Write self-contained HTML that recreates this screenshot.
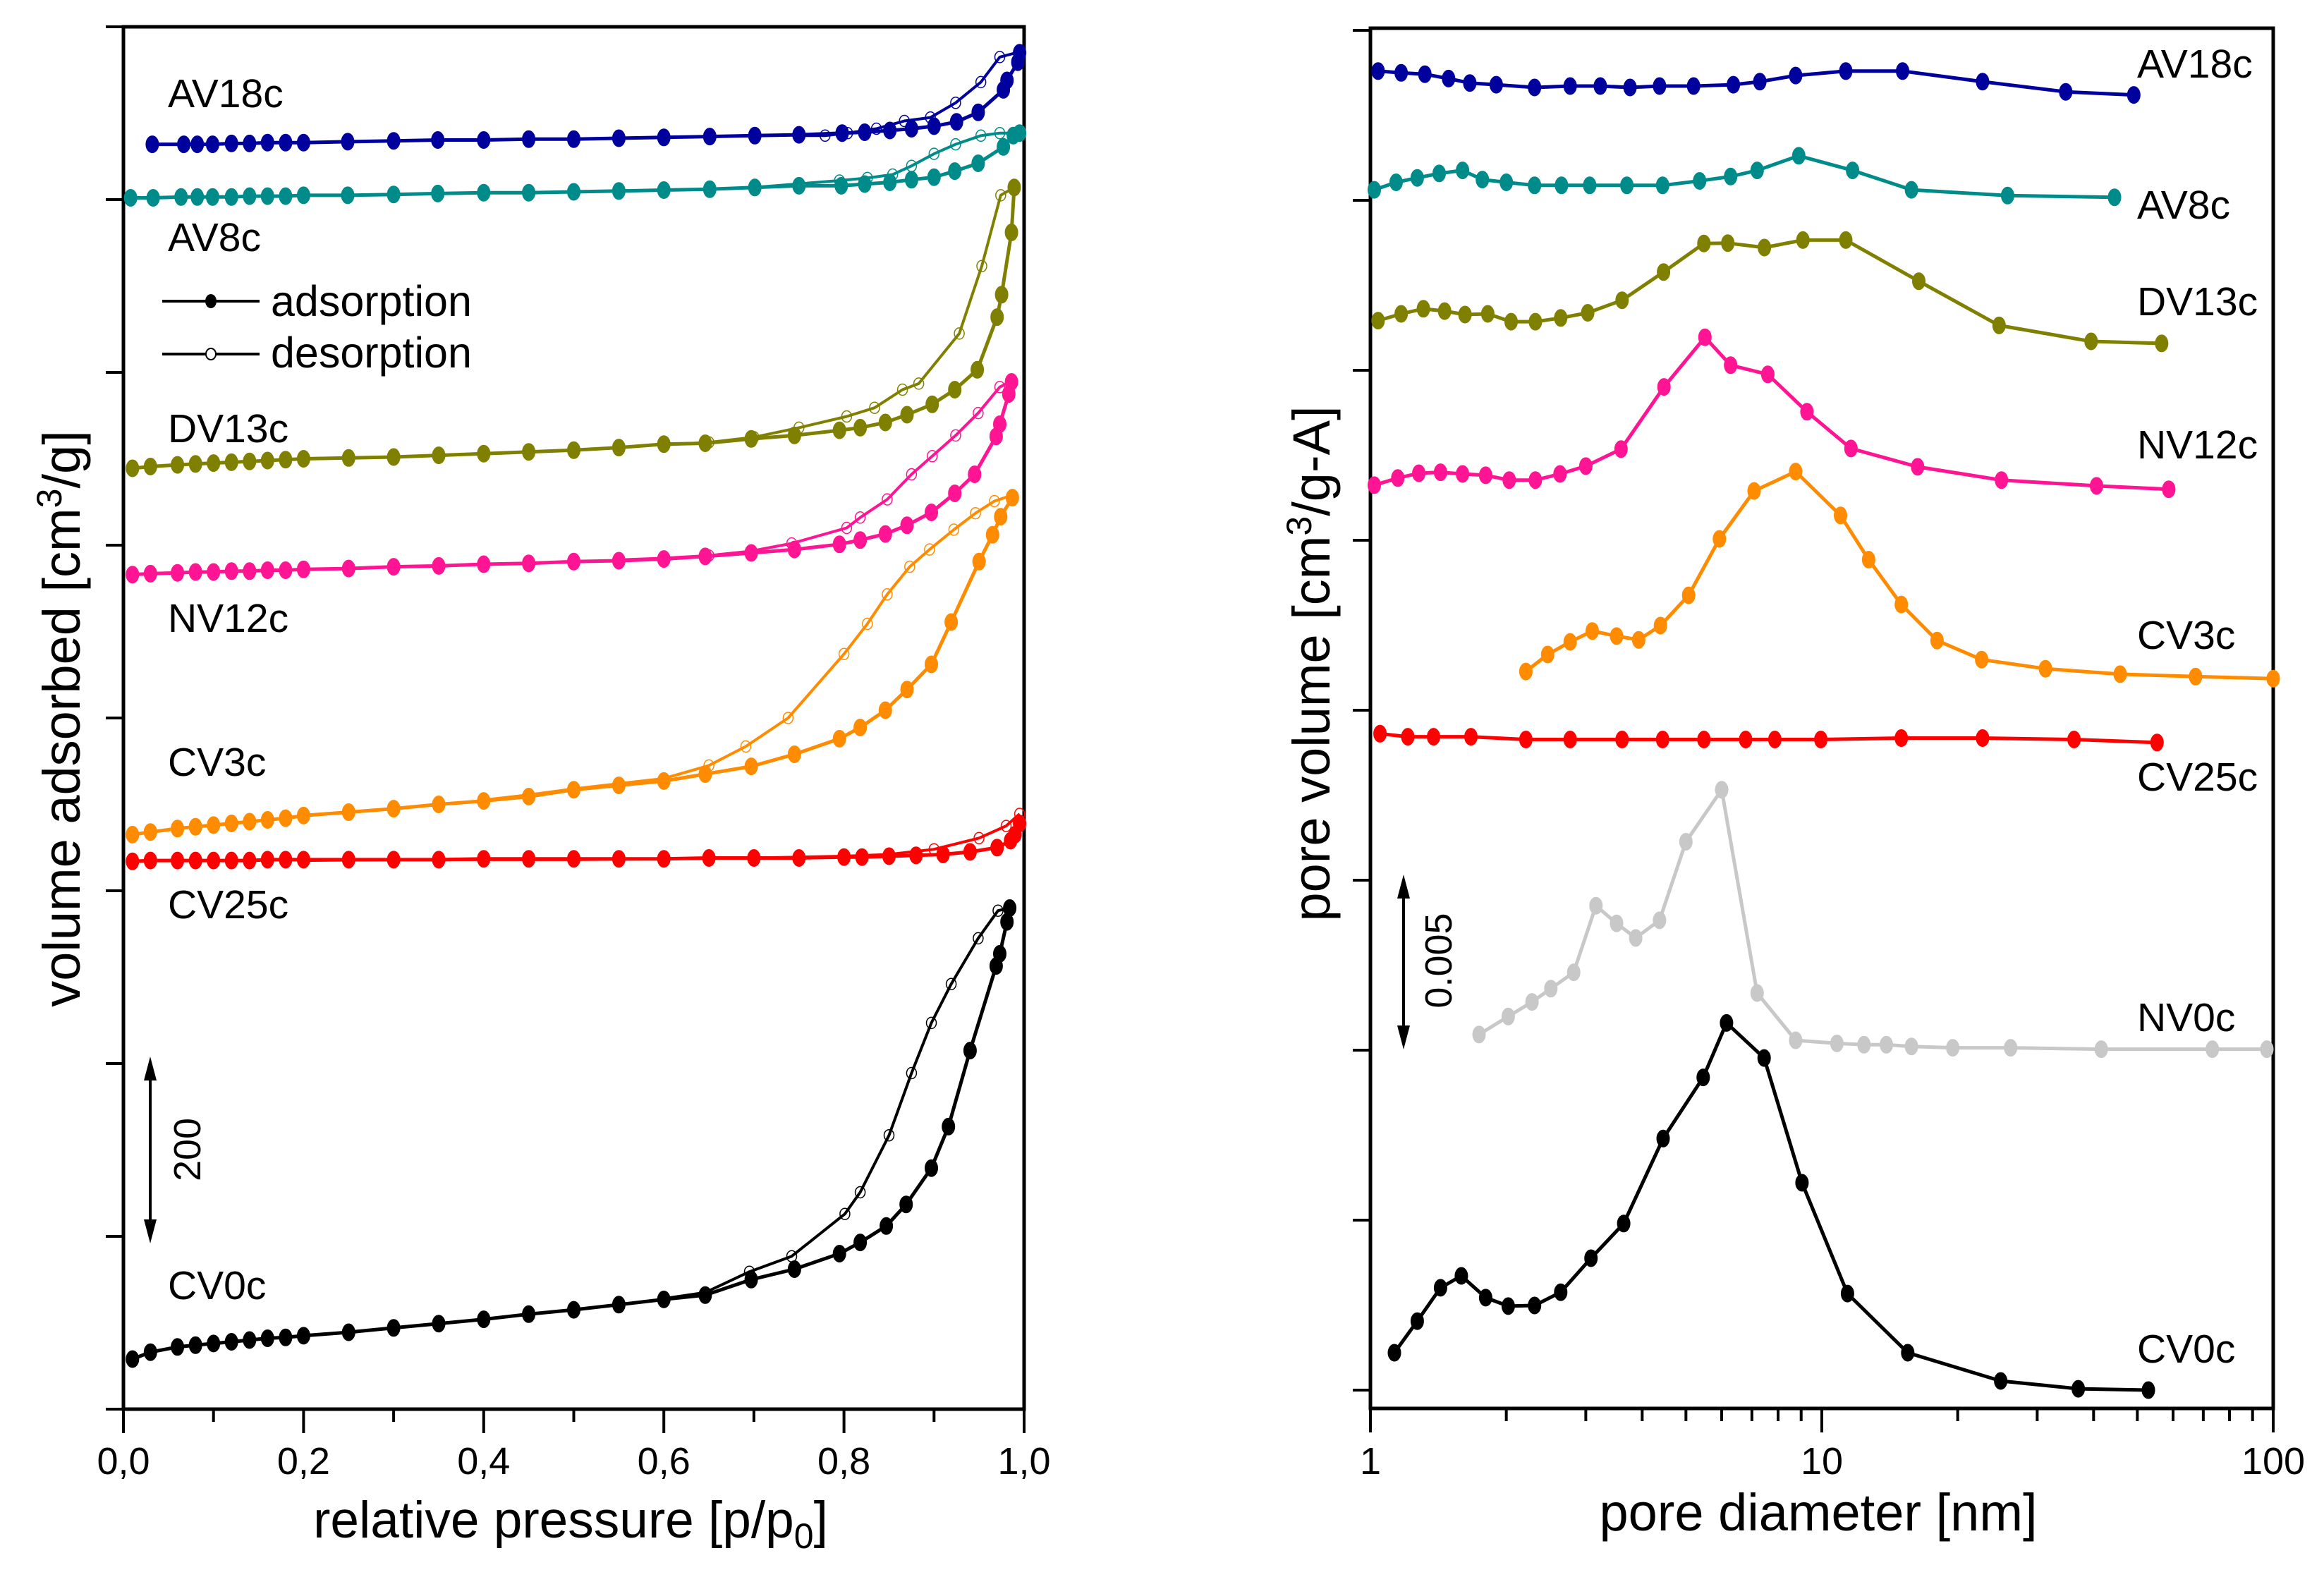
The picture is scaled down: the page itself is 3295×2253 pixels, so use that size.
<!DOCTYPE html>
<html><head><meta charset="utf-8"><style>
html,body{margin:0;padding:0;background:#fff}
svg{display:block;font-family:"Liberation Sans",Arial,sans-serif}
</style></head><body>
<svg id="chart" width="3295" height="2253" viewBox="0 0 3295 2253" xmlns="http://www.w3.org/2000/svg">
<g id="left"></g>
<g id="right"></g>
</svg>
<script>
// ---------- LEFT PANEL DATA (relative pressure, volume offset units) ----------
const cv0AdsP=[.01,.03,.06,.08,.10,.12,.14,.16,.18,.20,.25,.30,.35,.40,.45,.50,.55,.60,.646,.697,.745,.795,.818,.847,.869,.897,.916,.940,.969,.973,.981,.984];
const cv0AdsV=[58,66,72,74,76,78,80,82,83,85,89,94,99,104,110,115,121,127,132,150,162,180,193,212,237,279,327,415,513,527,564,580];
const cv0DesP=[.984,.971,.949,.919,.897,.875,.850,.818,.801,.742,.695,.646,.60];
const cv0DesV=[580,577,545,492,447,389,317,251,226,177,159,135,128];
const cv25AdsP=[.01,.03,.06,.08,.10,.12,.14,.16,.18,.20,.25,.30,.35,.40,.45,.50,.55,.60,.65,.70,.75,.80,.82,.85,.88,.91,.94,.97,.985,.99,.995];
const cv25AdsV=[634,635,635,635,635,635,635,636,636,636,636,636,636,637,637,637,637,637,638,638,638,639,639,640,641,642,645,650,658,665,678];
const cv25DesP=[.995,.98,.95,.90,.85,.80,.75,.70,.60,.50,.40,.30,.20];
const cv25DesV=[689,675,661,648,642,640,639,638,637,636,636,636,635];
const cv3AdsP=[.01,.03,.06,.08,.10,.12,.14,.16,.18,.20,.25,.30,.35,.40,.45,.50,.55,.60,.646,.697,.745,.795,.818,.846,.870,.897,.919,.950,.965,.974,.987];
const cv3AdsV=[665,668,672,674,676,678,680,682,684,687,691,695,700,704,709,717,722,727,735,744,758,776,789,809,833,862,911,981,1012,1033,1055];
const cv3DesP=[.987,.967,.946,.922,.895,.873,.848,.826,.800,.738,.691,.65,.60,.55,.50,.45,.40];
const cv3DesV=[1058,1051,1037,1018,995,975,943,909,874,800,767,745,730,724,718,711,705];
const nv12AdsP=[.01,.03,.06,.08,.10,.12,.14,.16,.18,.20,.25,.30,.35,.40,.45,.50,.55,.60,.646,.697,.745,.795,.818,.846,.870,.897,.923,.945,.969,.973,.983,.986];
const nv12AdsV=[966,967,968,969,969,970,970,971,971,972,973,975,976,978,979,981,982,984,987,991,995,1001,1006,1013,1023,1038,1060,1082,1126,1140,1175,1189];
const nv12DesP=[.986,.973,.949,.924,.898,.875,.848,.818,.803,.742,.696,.65,.60,.55];
const nv12DesV=[1190,1183,1153,1127,1103,1082,1053,1032,1020,1002,993,988,985,983];
const dv13AdsP=[.01,.03,.06,.08,.10,.12,.14,.16,.18,.20,.25,.30,.35,.40,.45,.50,.55,.60,.646,.697,.745,.795,.818,.846,.870,.898,.923,.948,.970,.975,.986,.989];
const dv13AdsV=[1089,1091,1093,1094,1095,1096,1097,1098,1099,1100,1101,1102,1104,1106,1108,1110,1113,1117,1118,1123,1127,1133,1136,1142,1151,1163,1180,1203,1264,1290,1362,1414];
const dv13DesP=[.989,.974,.953,.928,.883,.865,.834,.803,.75,.70,.65,.60];
const dv13DesV=[1414,1405,1323,1245,1187,1180,1159,1149,1136,1125,1119,1116];
const av8AdsP=[.008,.033,.064,.082,.099,.120,.140,.160,.180,.200,.249,.300,.349,.400,.450,.500,.550,.600,.651,.701,.750,.797,.823,.851,.875,.900,.923,.949,.977,.988,.995];
const av8AdsV=[1402,1402,1403,1403,1403,1403,1404,1404,1404,1405,1405,1406,1407,1408,1408,1409,1410,1411,1412,1414,1416,1416,1418,1420,1423,1426,1433,1442,1461,1474,1477];
const av8DesP=[.991,.973,.952,.924,.900,.875,.854,.826,.795,.70,.65];
const av8DesV=[1477,1477,1474,1464,1453,1439,1429,1425,1422,1414,1412];
const av18AdsP=[.032,.067,.082,.099,.120,.140,.160,.180,.200,.249,.300,.349,.400,.450,.500,.550,.600,.651,.701,.750,.798,.823,.851,.875,.900,.925,.949,.977,.981,.993,.995];
const av18AdsV=[1464,1464,1464,1464,1465,1465,1466,1466,1466,1467,1468,1469,1469,1470,1470,1471,1472,1473,1474,1475,1477,1478,1480,1482,1485,1490,1501,1527,1538,1559,1570];
const av18DesP=[.995,.973,.952,.924,.896,.867,.836,.804,.779,.75];
const av18DesV=[1571,1565,1536,1512,1495,1491,1482,1477,1474,1474];
const leftXTicks=["0,0","0,2","0,4","0,6","0,8","1,0"];
const leftYTickVals=[0,200,400,600,800,1000,1200,1400,1600];

// ---------- RIGHT PANEL DATA (pore diameter nm, pore volume) ----------
const cv0PsdD=[1.13,1.27,1.43,1.59,1.80,2.02,2.31,2.64,3.08,3.64,4.45,5.46,6.15,7.45,9.04,11.4,15.5,24.9,37.0,52.9];
const cv0PsdV=[.0011,.00203,.00301,.00336,.00272,.00247,.00249,.00288,.00388,.0049,.0074,.0092,.0108,.00977,.0061,.00284,.0011,.00027,.00004,0];
const nv0PsdD=[1.74,2.02,2.28,2.51,2.82,3.16,3.51,3.87,4.37,5.00,6.00,7.19,8.75,10.8,12.4,13.9,15.8,19.5,26.2,41.6,73.3,96.8];
const nv0PsdV=[.01046,.01099,.01142,.01181,.01229,.01425,.01373,.0133,.01382,.01613,.01766,.01168,.01029,.0102,.01016,.01016,.01011,.01007,.01007,.01003,.01003,.01003];
const cv25PsdD=[1.05,1.21,1.38,1.67,2.21,2.77,3.61,4.44,5.48,6.78,7.87,9.95,15.0,22.7,36.2,55.3];
const cv25PsdV=[.01931,.01922,.01922,.01922,.01914,.01914,.01914,.01914,.01914,.01914,.01914,.01914,.01918,.01918,.01914,.01905];
const cv3PsdD=[2.21,2.47,2.77,3.10,3.51,3.93,4.39,5.07,5.93,7.08,8.75,11.0,12.7,15.0,18.0,22.6,31.3,45.8,67.3,100];
const cv3PsdV=[.02114,.02164,.02201,.02233,.02218,.02207,.02249,.02338,.02504,.02645,.02702,.02573,.02443,.02311,.02205,.02149,.02122,.02106,.02099,.02093];
const nv12PsdD=[1.02,1.15,1.28,1.43,1.60,1.80,2.03,2.32,2.63,3.00,3.59,4.47,5.51,6.28,7.59,9.27,11.6,16.3,25.0,40.6,58.7];
const nv12PsdV=[.02662,.02683,.02697,.027,.02695,.02691,.02677,.02677,.02695,.02718,.02768,.02951,.03097,.03015,.02988,.02878,.0277,.02716,.02677,.0266,.0265];
const dv13PsdD=[1.04,1.17,1.31,1.46,1.62,1.82,2.05,2.32,2.64,3.03,3.61,4.46,5.48,6.19,7.46,9.08,11.3,16.4,24.7,39.5,56.6];
const dv13PsdV=[.03146,.03166,.03181,.03174,.03164,.03166,.03143,.03143,.03154,.03169,.03206,.03289,.03373,.03374,.03361,.03383,.03383,.03262,.03132,.03085,.03079];
const av8PsdD=[1.02,1.14,1.27,1.42,1.60,1.77,2.00,2.31,2.65,3.06,3.70,4.44,5.36,6.28,7.19,8.89,11.7,15.8,25.8,44.5];
const av8PsdV=[.03531,.03553,.03566,.03579,.03588,.03561,.03553,.03544,.03544,.03544,.03544,.03544,.03557,.0357,.03588,.03631,.03588,.03531,.03514,.03509];
const av18PsdD=[1.04,1.17,1.32,1.49,1.66,1.90,2.31,2.77,3.23,3.76,4.37,5.20,6.37,7.29,8.75,11.3,15.1,22.7,34.7,49.1];
const av18PsdV=[.0388,.03875,.03871,.03858,.03845,.0384,.03832,.03836,.03836,.03832,.03836,.03836,.0384,.03849,.03867,.0388,.0388,.03849,.03819,.0381];
const rightXTicks=["1","10","100"];
const rightYTickVals=[0,.005,.01,.015,.02,.025,.03,.035,.04];

const NS="http://www.w3.org/2000/svg";
function mk(parent,tag,attrs,text){const e=document.createElementNS(NS,tag);for(const k in attrs)e.setAttribute(k,attrs[k]);if(text!==undefined)e.textContent=text;parent.appendChild(e);return e;}

const LX0=175,LX1=1452,LY0=1998,LY1=38;
function lx(p){return LX0+p*(LX1-LX0);}
function ly(v){return LY0-v*(LY0-LY1)/1600;}
const RX0=1943,RX1=3223,RYB=1997,RYT=40;
function rx(d){return RX0+Math.log10(d)*(RX1-RX0)/2;}
function ry(v){return 1971-v/0.005*241;}

const L=document.getElementById('left');
const R=document.getElementById('right');

function series(g,name,P,V,fx,fy,color,open,w){
  const grp=mk(g,'g',{});
  
  
  const pts=P.map((p,i)=>fx(p).toFixed(1)+','+fy(V[i]).toFixed(1)).join(' ');
  const pl=mk(grp,'polyline',{points:pts,fill:'none',stroke:color,'stroke-width':w,'stroke-linejoin':'round'});
  
  
  P.forEach((p,i)=>{
    const c=mk(grp,'ellipse',{cx:fx(p).toFixed(1),cy:fy(V[i]).toFixed(1),rx:open?7:9,ry:open?8:12,fill:open?'none':color,stroke:color,'stroke-width':open?1.5:1});
    
    
  });
}

mk(L,'rect',{x:LX0,y:LY1,width:LX1-LX0,height:LY0-LY1,fill:'none',stroke:'#000','stroke-width':5});
leftYTickVals.forEach(v=>{const t=mk(L,'line',{x1:LX0-25,x2:LX0,y1:ly(v),y2:ly(v),stroke:'#000','stroke-width':4});
});
for(let i=0;i<=10;i++){const p=i/10;const major=i%2===0;
 const t=mk(L,'line',{x1:lx(p),x2:lx(p),y1:LY0,y2:LY0+(major?34:18),stroke:'#000','stroke-width':4});
 }
leftXTicks.forEach((s,i)=>{const t=mk(L,'text',{x:lx(i*0.2),y:2090,'font-size':54,'text-anchor':'middle'},s);
 });
let t=mk(L,'text',{x:809,y:2180,'font-size':73,'text-anchor':'middle'});

t.innerHTML='relative pressure [p/p<tspan dy="15" font-size="50">0</tspan><tspan dy="-15">]</tspan>';
t=mk(L,'text',{x:0,y:0,'font-size':74,'text-anchor':'middle',transform:'translate(113,1019) rotate(-90)'});

t.innerHTML='volume adsorbed [cm<tspan dy="-26" font-size="50">3</tspan><tspan dy="26">/g]</tspan>';

series(L,'cv0c-adsorption',cv0AdsP,cv0AdsV,lx,ly,'#000',false,5);
series(L,'cv0c-desorption',cv0DesP,cv0DesV,lx,ly,'#000',true,4);
series(L,'cv25c-adsorption',cv25AdsP,cv25AdsV,lx,ly,'#ff0000',false,5);
series(L,'cv25c-desorption',cv25DesP,cv25DesV,lx,ly,'#ff0000',true,4);
series(L,'cv3c-adsorption',cv3AdsP,cv3AdsV,lx,ly,'#ff8c00',false,5);
series(L,'cv3c-desorption',cv3DesP,cv3DesV,lx,ly,'#ff8c00',true,4);
series(L,'nv12c-adsorption',nv12AdsP,nv12AdsV,lx,ly,'#ff1493',false,5);
series(L,'nv12c-desorption',nv12DesP,nv12DesV,lx,ly,'#ff1493',true,4);
series(L,'dv13c-adsorption',dv13AdsP,dv13AdsV,lx,ly,'#808000',false,5);
series(L,'dv13c-desorption',dv13DesP,dv13DesV,lx,ly,'#808000',true,4);
series(L,'av8c-adsorption',av8AdsP,av8AdsV,lx,ly,'#008b8b',false,5);
series(L,'av8c-desorption',av8DesP,av8DesV,lx,ly,'#008b8b',true,4);
series(L,'av18c-adsorption',av18AdsP,av18AdsV,lx,ly,'#00009c',false,5);
series(L,'av18c-desorption',av18DesP,av18DesV,lx,ly,'#00009c',true,4);

[['AV18c',152],['AV8c',356],['DV13c',627],['NV12c',896],['CV3c',1100],['CV25c',1302],['CV0c',1842]].forEach(a=>{
 const e=mk(L,'text',{x:238,y:a[1],'font-size':57},a[0]);
 });
let lg=mk(L,'g',{});

mk(lg,'line',{x1:230,x2:368,y1:427,y2:427,stroke:'#000','stroke-width':4});
mk(lg,'ellipse',{cx:299,cy:427,rx:8,ry:10,fill:'#000'});
mk(lg,'line',{x1:230,x2:368,y1:502,y2:502,stroke:'#000','stroke-width':4});
mk(lg,'ellipse',{cx:299,cy:502,rx:7,ry:8,fill:'#fff',stroke:'#000','stroke-width':2});
t=mk(lg,'text',{x:384,y:448,'font-size':61},'adsorption');
t=mk(lg,'text',{x:384,y:521,'font-size':61},'desorption');
let ar=mk(L,'g',{});
mk(ar,'line',{x1:213,x2:213,y1:1520,y2:1742,stroke:'#000','stroke-width':4});
mk(ar,'polygon',{points:'213,1498 204,1532 222,1532',fill:'#000'});
mk(ar,'polygon',{points:'213,1763 204,1729 222,1729',fill:'#000'});
mk(ar,'text',{x:0,y:0,'font-size':54,'text-anchor':'middle',transform:'translate(284,1630) rotate(-90)'},'200');

mk(R,'rect',{x:RX0,y:RYT,width:RX1-RX0,height:RYB-RYT,fill:'none',stroke:'#000','stroke-width':5});
rightYTickVals.forEach(v=>{const e=mk(R,'line',{x1:RX0-25,x2:RX0,y1:ry(v),y2:ry(v),stroke:'#000','stroke-width':4});
});
[1,10].forEach(b=>{for(let k=1;k<=10;k++){const d=b*k;const major=(k===1||k===10);
 const e=mk(R,'line',{x1:rx(d),x2:rx(d),y1:RYB,y2:RYB+(major?34:18),stroke:'#000','stroke-width':4});
 }});
rightXTicks.forEach((s,i)=>{const e=mk(R,'text',{x:rx(Math.pow(10,i)),y:2090,'font-size':54,'text-anchor':'middle'},s);
 });
t=mk(R,'text',{x:2578,y:2170,'font-size':74,'text-anchor':'middle'},'pore diameter [nm]');

t=mk(R,'text',{x:0,y:0,'font-size':74,'text-anchor':'middle',transform:'translate(1885,941) rotate(-90)'});

t.innerHTML='pore volume [cm<tspan dy="-26" font-size="50">3</tspan><tspan dy="26">/g-A]</tspan>';

series(R,'cv0c-psd',cv0PsdD,cv0PsdV,rx,ry,'#000',false,5);
series(R,'nv0c-psd',nv0PsdD,nv0PsdV,rx,ry,'#c8c8c8',false,5);
series(R,'cv25c-psd',cv25PsdD,cv25PsdV,rx,ry,'#ff0000',false,5);
series(R,'cv3c-psd',cv3PsdD,cv3PsdV,rx,ry,'#ff8c00',false,5);
series(R,'nv12c-psd',nv12PsdD,nv12PsdV,rx,ry,'#ff1493',false,5);
series(R,'dv13c-psd',dv13PsdD,dv13PsdV,rx,ry,'#808000',false,5);
series(R,'av8c-psd',av8PsdD,av8PsdV,rx,ry,'#008b8b',false,5);
series(R,'av18c-psd',av18PsdD,av18PsdV,rx,ry,'#00009c',false,5);

[['AV18c',110],['AV8c',310],['DV13c',447],['NV12c',650],['CV3c',920],['CV25c',1121],['NV0c',1462],['CV0c',1932]].forEach(a=>{
 const e=mk(R,'text',{x:3030,y:a[1],'font-size':57},a[0]);
 });
ar=mk(R,'g',{});
mk(ar,'line',{x1:1990,x2:1990,y1:1262,y2:1466,stroke:'#000','stroke-width':4});
mk(ar,'polygon',{points:'1990,1240 1981,1274 1999,1274',fill:'#000'});
mk(ar,'polygon',{points:'1990,1488 1981,1454 1999,1454',fill:'#000'});
mk(ar,'text',{x:0,y:0,'font-size':54,'text-anchor':'middle',transform:'translate(2058,1362) rotate(-90)'},'0.005');
</script>
</body></html>
